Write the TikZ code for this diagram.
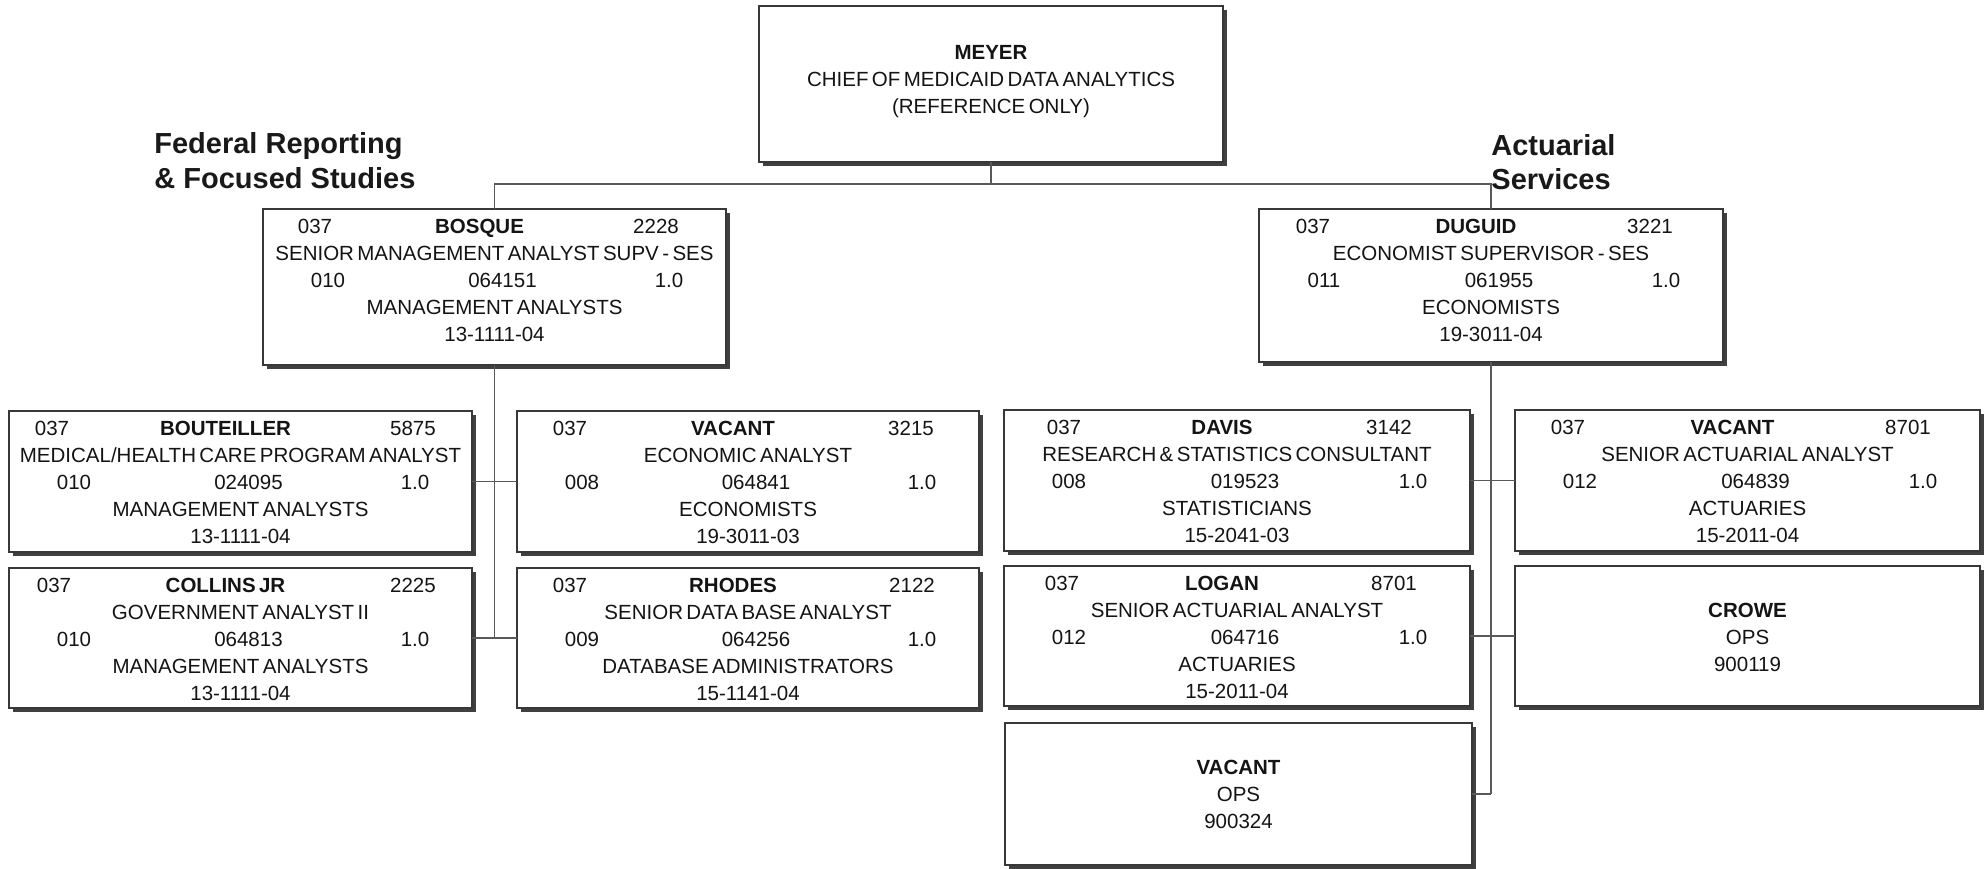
\documentclass[tikz,border=0pt]{standalone}
\usepackage{fontspec}
\setmainfont{Liberation Sans}[WordSpace=0.6]
\newfontfamily\headfamily{Liberation Sans}
\usetikzlibrary{calc,shadows}

\newcommand\orgfont{\fontsize{10.25}{12}\selectfont}
\newcommand\headfont{\headfamily\fontsize{14.5}{17}\selectfont\bfseries}

\tikzset{
  staffbox/.style={draw=black!78, line width=0.7pt, fill=white, inner sep=0pt,
    outer sep=0pt, anchor=north west,
    drop shadow={shadow xshift=1.9pt, shadow yshift=-1.9pt, fill=black!75, opacity=1}},
  txt/.style={inner sep=0pt, anchor=base, font=\orgfont, text=black!92},
  conn/.style={draw=black!65, line width=0.65pt},
  head/.style={inner sep=0pt, anchor=base west, font=\headfont, text=black!90},
}

% box from (x1,y1) to (x2,y2), in pixel units, y downwards
\newcommand\orgbox[5]{%
  \node[staffbox, minimum width={(#4-#2)*0.5pt}, minimum height={(#5-#3)*0.5pt}] (#1) at (#2,#3) {};}
% first line: pay grade, name, class code
\newcommand\toprow[6]{%
  \node[txt] (#1-pc) at ($(#1.north west)+(#2,24.5)$) {#4};
  \node[txt, font=\orgfont\bfseries] (#1-nm) at ($(#1.north)+(-15,24.5)$) {#5};
  \node[txt] (#1-cl) at ($(#1.north east)+(-#3,24.5)$) {#6};}
% second line: position title
\newcommand\titlerow[2]{%
  \node[txt] (#1-ti) at ($(#1.north)+(0,51.5)$) {#2};}
% third line: broadband, position number, FTE
\newcommand\coderow[4]{%
  \node[txt] (#1-bb) at ($(#1.north west)+(65,78.5)$) {#2};
  \node[txt] (#1-po) at ($(#1.north)+(8,78.5)$) {#3};
  \node[txt] (#1-fte) at ($(#1.north east)+(-57,78.5)$) {#4};}
% last lines: occupation group and code
\newcommand\occrows[3]{%
  \node[txt] (#1-oc) at ($(#1.north)+(0,105.5)$) {#2};
  \node[txt] (#1-so) at ($(#1.north)+(0,132.5)$) {#3};}
% short boxes: name, category, number
\newcommand\opsrows[4]{%
  \node[txt, font=\orgfont\bfseries] (#1-nm) at ($(#1.north)+(0,51)$) {#2};
  \node[txt] (#1-ct) at ($(#1.north)+(0,78)$) {#3};
  \node[txt] (#1-no) at ($(#1.north)+(0,105)$) {#4};}

\begin{document}
\begin{tikzpicture}[x=0.5pt, y=-0.5pt]
  \fill[white] (0,0) rectangle (1984,868);
  \useasboundingbox (0,0) rectangle (1984,868);

  % chief
  \orgbox{meyer}{759}{6}{1223}{162}
  \node[txt, font=\orgfont\bfseries] (meyer-nm) at ($(meyer.north)+(0,53)$) {MEYER};
  \node[txt] (meyer-ti) at ($(meyer.north)+(0,80)$) {CHIEF OF MEDICAID DATA ANALYTICS};
  \node[txt] (meyer-nt) at ($(meyer.north)+(0,107)$) {(REFERENCE ONLY)};

  % section headings
  \node[head] (fedA) at (154,153) {Federal Reporting};
  \node[head] (fedB) at (154,188) {\& Focused Studies};
  \node[head] (actA) at (1491,155) {Actuarial};
  \node[head] (actB) at (1491,189) {Services};

  % supervisors
  \orgbox{bosque}{263}{209}{726}{365}
  \toprow{bosque}{52}{70}{037}{BOSQUE}{2228}
  \titlerow{bosque}{SENIOR MANAGEMENT ANALYST SUPV - SES}
  \coderow{bosque}{010}{064151}{1.0}
  \occrows{bosque}{MANAGEMENT ANALYSTS}{13-1111-04}

  \orgbox{duguid}{1259}{209}{1723}{362}
  \toprow{duguid}{54}{73}{037}{DUGUID}{3221}
  \titlerow{duguid}{ECONOMIST SUPERVISOR - SES}
  \coderow{duguid}{011}{061955}{1.0}
  \occrows{duguid}{ECONOMISTS}{19-3011-04}

  % federal reporting staff
  \orgbox{bout}{9}{411}{472}{552}
  \toprow{bout}{43}{59}{037}{BOUTEILLER}{5875}
  \titlerow{bout}{MEDICAL/HEALTH CARE PROGRAM ANALYST}
  \coderow{bout}{010}{024095}{1.0}
  \occrows{bout}{MANAGEMENT ANALYSTS}{13-1111-04}

  \orgbox{coll}{9}{568}{472}{708}
  \toprow{coll}{45}{59}{037}{COLLINS JR}{2225}
  \titlerow{coll}{GOVERNMENT ANALYST II}
  \coderow{coll}{010}{064813}{1.0}
  \occrows{coll}{MANAGEMENT ANALYSTS}{13-1111-04}

  \orgbox{vace}{517}{411}{979}{552}
  \toprow{vace}{53}{68}{037}{VACANT}{3215}
  \titlerow{vace}{ECONOMIC ANALYST}
  \coderow{vace}{008}{064841}{1.0}
  \occrows{vace}{ECONOMISTS}{19-3011-03}

  \orgbox{rhodes}{517}{568}{979}{708}
  \toprow{rhodes}{53}{67}{037}{RHODES}{2122}
  \titlerow{rhodes}{SENIOR DATA BASE ANALYST}
  \coderow{rhodes}{009}{064256}{1.0}
  \occrows{rhodes}{DATABASE ADMINISTRATORS}{15-1141-04}

  % actuarial staff
  \orgbox{davis}{1004}{410}{1470}{551}
  \toprow{davis}{60}{81}{037}{DAVIS}{3142}
  \titlerow{davis}{RESEARCH \& STATISTICS CONSULTANT}
  \coderow{davis}{008}{019523}{1.0}
  \occrows{davis}{STATISTICIANS}{15-2041-03}

  \orgbox{logan}{1004}{566}{1470}{706}
  \toprow{logan}{58}{76}{037}{LOGAN}{8701}
  \titlerow{logan}{SENIOR ACTUARIAL ANALYST}
  \coderow{logan}{012}{064716}{1.0}
  \occrows{logan}{ACTUARIES}{15-2011-04}

  \orgbox{vacops}{1005}{723}{1472}{865}
  \opsrows{vacops}{VACANT}{OPS}{900324}

  \orgbox{vacact}{1515}{410}{1980}{551}
  \toprow{vacact}{53}{72}{037}{VACANT}{8701}
  \titlerow{vacact}{SENIOR ACTUARIAL ANALYST}
  \coderow{vacact}{012}{064839}{1.0}
  \occrows{vacact}{ACTUARIES}{15-2011-04}

  \orgbox{crowe}{1515}{566}{1980}{706}
  \opsrows{crowe}{CROWE}{OPS}{900119}

  % reporting lines
  \coordinate (bus) at (991,184);
  \draw[conn] (meyer.south) -- (meyer.south |- bus);
  \draw[conn] (bosque.north) |- (duguid.north |- bus) -- (duguid.north);

  \draw[conn] (bosque.south) -- (bosque.south |- coll.east);
  \draw[conn] (bout.east) -- (vace.west);
  \draw[conn] (coll.east) -- (rhodes.west);

  \draw[conn] (duguid.south) -- (duguid.south |- vacops.east);
  \draw[conn] (davis.east) -- (vacact.west);
  \draw[conn] (logan.east) -- (crowe.west);
  \draw[conn] (vacops.east) -- (duguid.south |- vacops.east);
\end{tikzpicture}
\end{document}
